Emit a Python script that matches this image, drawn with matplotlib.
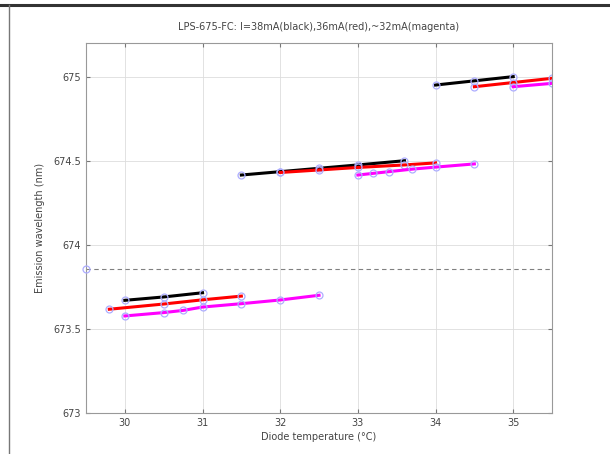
import matplotlib.pyplot as plt
from matplotlib.lines import Line2D

# wavelength vs diode temperature, three drive currents
black_x = [[30.0, 30.5, 31.0], [31.5, 32.0, 32.5, 33.0, 33.6], [34.0, 34.5, 35.0]]
black_y = [[673.67, 673.69, 673.715], [674.415, 674.435, 674.455, 674.475, 674.50], [674.95, 674.975, 675.0]]

red_x = [[29.8, 30.5, 31.0, 31.5], [32.0, 32.5, 33.0, 33.6, 34.0], [34.5, 35.0, 35.5]]
red_y = [[673.617, 673.648, 673.673, 673.695], [674.43, 674.445, 674.46, 674.475, 674.487], [674.94, 674.965, 674.99]]

mag_x = [[30.0, 30.5, 30.75, 31.0, 31.5, 32.0, 32.5], [33.0, 33.2, 33.4, 33.7, 34.0, 34.5], [35.0, 35.5]]
mag_y = [[673.577, 673.597, 673.61, 673.63, 673.65, 673.672, 673.70],
         [674.415, 674.425, 674.435, 674.45, 674.462, 674.481], [674.94, 674.96]]

ref_wavelength = 673.855

fig = plt.figure(figsize=(6.1, 4.54), dpi=100)
ax = fig.add_axes([0.141, 0.0903, 0.764, 0.815])

mk = dict(marker='o', markersize=5, markerfacecolor='none', markeredgecolor=(0.68, 0.68, 1.0), markeredgewidth=0.9)
for xs, ys in zip(black_x, black_y):
    ax.plot(xs, ys, color='black', lw=2.2, **mk)
for xs, ys in zip(red_x, red_y):
    ax.plot(xs, ys, color='red', lw=2.2, **mk)
for xs, ys in zip(mag_x, mag_y):
    ax.plot(xs, ys, color='magenta', lw=2.2, **mk)

ax.axhline(ref_wavelength, color='gray', ls='--', lw=0.8, dashes=(4, 3))
ax.plot([29.5], [ref_wavelength], clip_on=False, zorder=5, **mk)

ax.set_xlim(29.5, 35.5)
ax.set_ylim(673, 675.2)
ax.set_xticks([30, 31, 32, 33, 34, 35])
ax.set_yticks([673, 673.5, 674, 674.5, 675])
ax.set_yticklabels(['673', '673.5', '674', '674.5', '675'])
ax.grid(True, color='#dddddd', lw=0.6)
ax.set_axisbelow(True)
ax.tick_params(direction='in', labelsize=7, length=3, top=True, right=True, color='#777777', labelcolor='#444444')
for s in ax.spines.values():
    s.set_color('#999999')
    s.set_linewidth(0.8)

ax.set_title('LPS-675-FC: I=38mA(black),36mA(red),~32mA(magenta)', fontsize=7, color='#444444', pad=9)
ax.set_xlabel('Diode temperature (\u00b0C)', fontsize=7, color='#444444', labelpad=3)
ax.set_ylabel('Emission wavelength (nm)', fontsize=7, color='#444444', labelpad=6)

# screenshot frame
fig.add_artist(Line2D([0, 1], [1 - 4.7 / 454, 1 - 4.7 / 454], color='#333333', lw=2.2))
fig.add_artist(Line2D([8.5 / 610, 8.5 / 610], [0, 1 - 4.7 / 454], color='#777777', lw=1))

plt.savefig('out.png', dpi=100)
